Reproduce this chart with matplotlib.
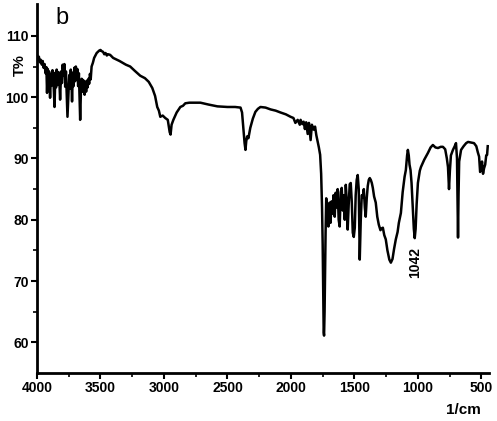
import matplotlib.pyplot as plt

# FTIR spectrum, values
wavenumber = [
    4000, 3992, 3985, 3978, 3970, 3962, 3955, 3948, 3940, 3933, 3926, 3921, 3915, 3910,
    3905, 3897, 3890, 3884, 3878, 3870, 3862, 3855, 3850, 3845, 3838, 3832, 3825, 3818,
    3810, 3804, 3798, 3790, 3784, 3778, 3772, 3766, 3760, 3752, 3746, 3740, 3734, 3728,
    3724, 3718, 3712, 3706, 3700, 3694, 3688, 3682, 3676, 3670, 3665, 3660, 3654, 3648,
    3642, 3636, 3630, 3625, 3619, 3613, 3607, 3601, 3595, 3589, 3583, 3577, 3570, 3560,
    3550, 3540, 3530, 3520, 3510, 3500, 3490, 3480, 3470, 3460, 3450, 3440, 3424, 3400,
    3350, 3300, 3266, 3230, 3187, 3150, 3120, 3092, 3070, 3053, 3040, 3029, 3010, 2990,
    2970, 2955, 2948, 2940, 2926, 2900, 2871, 2850, 2832, 2800, 2760, 2713, 2650, 2579,
    2500, 2440, 2397, 2385, 2375, 2365, 2358, 2352, 2345, 2335, 2320, 2300, 2280, 2260,
    2240, 2200, 2160, 2120, 2082, 2040, 2003, 1980, 1965, 1947, 1930, 1924, 1910, 1900,
    1890, 1880, 1868, 1858, 1845, 1835, 1821, 1810, 1800, 1789, 1780, 1770, 1762, 1755,
    1750, 1746, 1742, 1739, 1735, 1731, 1727, 1722, 1717, 1711, 1705, 1700, 1695, 1688,
    1680, 1672, 1665, 1655, 1648, 1640, 1632, 1624, 1616, 1608, 1600, 1592, 1584, 1576,
    1568, 1560, 1553, 1545, 1537, 1529, 1521, 1513, 1505, 1497, 1490, 1482, 1474, 1466,
    1458, 1450, 1442, 1434, 1426, 1418, 1411, 1403, 1395, 1387, 1379, 1371, 1363, 1355,
    1345, 1332, 1320, 1308, 1295, 1285, 1276, 1265, 1253, 1240, 1225, 1213, 1200, 1188,
    1174, 1160, 1150, 1134, 1120, 1105, 1095, 1085, 1079, 1072, 1066, 1058, 1050, 1040,
    1032, 1025, 1018, 1010, 1000, 985, 976, 950, 921, 900, 882, 862, 842, 820,
    803, 785, 772, 763, 755, 748, 740, 724, 710, 700, 692, 688, 684, 680,
    675, 660, 640, 620, 605, 580, 558, 540, 528, 518, 510, 503, 495, 487,
    479, 470, 462, 455, 450,
]
transmittance = [
    106.9, 106.2, 106.6, 105.7, 106.1, 105.3, 105.9, 104.8, 105.4, 103.9, 104.9, 100.7, 104.6, 102.4,
    104.2, 99.9, 103.8, 101.9, 104.4, 102.5, 98.4, 104.0, 101.6, 104.5, 102.0, 104.1, 103.2, 99.6,
    104.2, 102.3, 105.3, 103.6, 105.4, 101.7, 104.2, 100.5, 96.8, 100.5, 103.6, 101.4, 104.5, 102.1,
    99.3, 104.0, 101.8, 104.8, 102.6, 105.0, 102.9, 104.6, 101.8, 103.9, 100.2, 96.3, 101.0, 103.0,
    100.9, 102.8, 101.2, 100.4, 102.5, 100.9, 102.7, 101.6, 103.0, 102.2, 103.8, 102.9, 105.0, 105.6,
    106.4, 106.8, 107.2, 107.4, 107.6, 107.7, 107.5, 107.4, 107.0, 107.2, 106.8, 107.0, 106.9, 106.4,
    105.9, 105.3, 105.0, 104.3, 103.5, 103.1, 102.5, 101.5, 100.2, 98.4, 97.8, 96.8, 97.0, 96.6,
    96.3, 94.3, 93.9, 95.5, 96.3, 97.5, 98.4, 98.6, 99.0, 99.1, 99.1, 99.1, 98.8, 98.5,
    98.4, 98.4, 98.3, 97.5, 95.0, 92.5, 91.4, 92.8, 93.6, 93.3, 95.0, 96.5, 97.6, 98.1,
    98.4, 98.3, 98.0, 97.8, 97.5, 97.2, 96.8, 96.6, 95.8, 96.3, 95.5, 96.3, 95.6, 96.0,
    94.8, 95.9, 94.0, 95.8, 93.0, 95.5, 94.7, 95.2, 93.8, 92.7, 91.8, 90.6, 87.5, 82.0,
    76.0, 68.0, 61.6, 61.1, 65.0, 72.0, 78.0, 83.5, 80.0, 82.0, 78.9, 82.5, 82.8, 79.5,
    83.0, 81.0, 84.0, 80.5, 84.4, 82.0, 85.0, 80.0, 78.9, 84.5, 85.2, 81.5, 84.0, 80.0,
    85.7, 83.0, 78.4, 82.5, 85.8, 86.0, 83.0, 77.9, 77.2, 78.7, 84.0, 86.5, 87.3, 85.0,
    73.5, 80.0, 84.0, 83.7, 85.0, 82.0, 80.5, 83.5, 85.5, 86.5, 86.8, 86.5, 86.0, 85.2,
    83.8, 82.8, 80.5, 79.2, 78.3, 78.6, 78.7, 77.5, 76.8, 75.0, 73.5, 73.0, 73.6, 75.2,
    76.8, 78.0, 79.5, 81.1, 84.5, 87.0, 88.1, 90.5, 91.4, 90.5, 89.0, 88.1, 86.0, 82.0,
    78.5, 77.0, 78.5, 82.5, 86.0, 88.0, 88.6, 89.8, 90.9, 91.8, 92.2, 91.8, 91.7, 91.9,
    91.9, 91.5, 90.0, 88.6, 85.0, 88.0, 90.5, 91.4, 92.0, 92.5, 90.0, 84.0, 77.1, 84.0,
    89.5, 91.4, 92.0, 92.5, 92.7, 92.6, 92.5, 92.0, 91.0, 90.3, 87.8, 88.1, 89.5, 87.5,
    88.4, 89.0, 90.5, 90.6, 92.0,
]

plt.rcParams['font.family'] = ['Liberation Sans', 'DejaVu Sans']
plt.rcParams['font.weight'] = 'bold'

fig = plt.figure(figsize=(4.97, 4.21), dpi=100)
ax = fig.add_axes([37 / 497, 48 / 421, 452 / 497, 369 / 421])

ax.plot(wavenumber, transmittance, color='black', linewidth=1.8)

ax.set_xlim(4000, 440)
ax.set_ylim(55, 115.2)
ax.set_xticks([4000, 3500, 3000, 2500, 2000, 1500, 1000, 500])
ax.set_xticks([3750, 3250, 2750, 2250, 1750, 1250, 750], minor=True)
ax.set_yticks([60, 70, 80, 90, 100, 110])
ax.set_yticks([65, 75, 85, 95, 105], minor=True)

ax.spines['top'].set_visible(False)
ax.spines['right'].set_visible(False)
ax.spines['left'].set_linewidth(2)
ax.spines['bottom'].set_linewidth(2)
ax.tick_params(which='major', direction='out', length=4, width=1.5, labelsize=10, pad=2)
ax.tick_params(which='minor', direction='out', length=3, width=1.2)

fig.text(20 / 497, 1 - 65 / 421, 'T%', rotation=90, ha='center', va='center', fontsize=10.5)
fig.text(62 / 497, 1 - 18 / 421, 'b', ha='center', va='center', fontsize=17, fontweight='normal')
fig.text(463 / 497, 1 - 410 / 421, '1/cm', ha='center', va='center', fontsize=11)
ax.text(1025, 73, '1042', rotation=90, ha='center', va='center', fontsize=10)

plt.savefig('out.png', dpi=100)
